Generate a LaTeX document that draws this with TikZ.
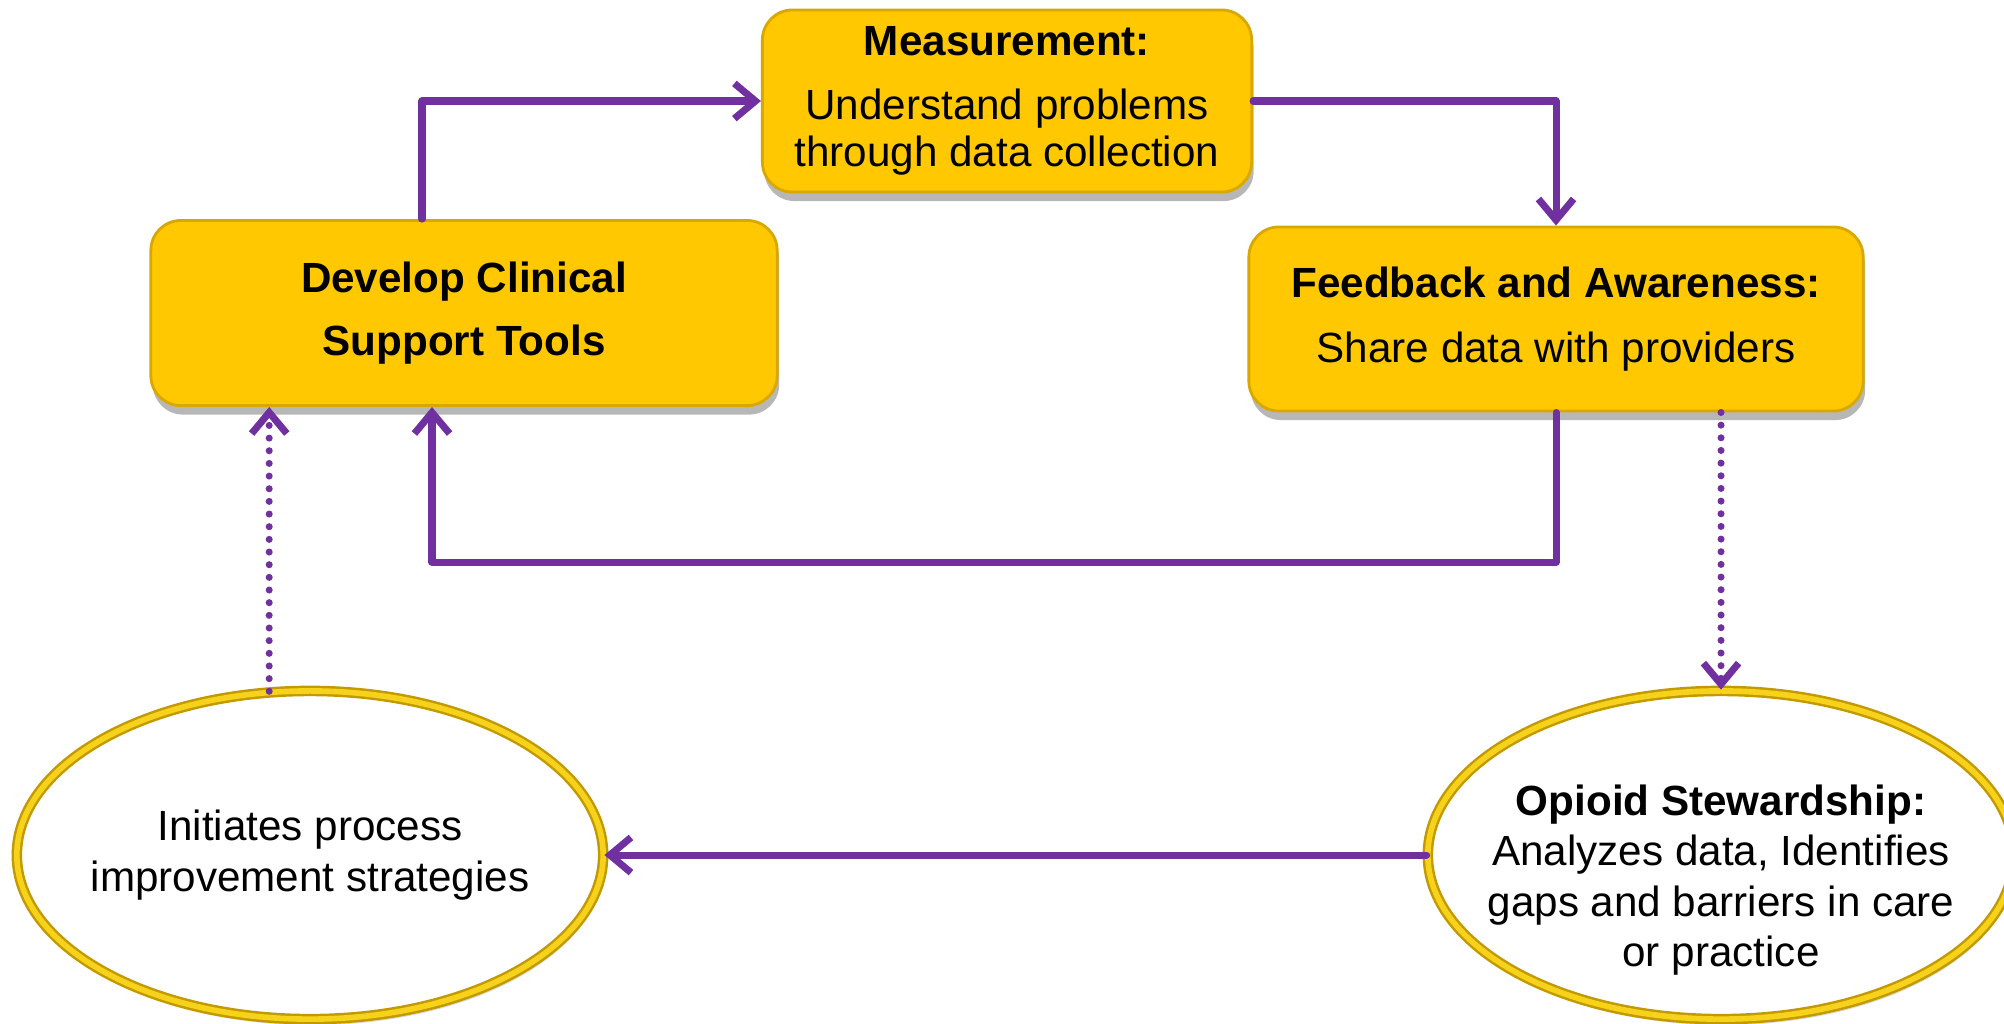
\documentclass[tikz,border=0pt]{standalone}
\usepackage{fontspec}
\setmainfont{Liberation Sans}
\usetikzlibrary{shapes.geometric,arrows.meta,shadows}

\definecolor{boxgold}{HTML}{FFC800}
\definecolor{boxedge}{HTML}{D9A800}
\definecolor{ringgold}{HTML}{C29A00}
\definecolor{ringlite}{HTML}{F7D21A}
\definecolor{flowpurple}{HTML}{7030A0}

\begin{document}
\begin{tikzpicture}[line cap=round, line join=round, x=0.01cm, y=-0.01cm,
    stage/.style={draw=boxedge, line width=0.8pt, fill=boxgold, rounded corners=0.3cm,
        align=center, font=\fontsize{12}{13.5}\selectfont,
        drop shadow={shadow xshift=0.02cm, shadow yshift=-0.09cm, opacity=0.4, fill=black!70}},
    ring/.style={ellipse, draw=ringgold, double=ringlite, line width=0.7pt, double distance=1.6pt,
        fill=white, minimum width=5.86cm, minimum height=3.28cm,
        drop shadow={shadow xshift=0.02cm, shadow yshift=-0.06cm, opacity=0.25, fill=black!60}},
    ringtext/.style={align=center, font=\fontsize{12}{14.3}\selectfont},
    flow/.style={draw=flowpurple, line width=2pt, -{Straight Barb[length=6pt, width=10pt]}},
    dotflow/.style={flow, dash pattern=on 0pt off 3.6pt}
]

    % canvas (drawing units are pixels, y pointing down)
    \useasboundingbox (0,0) rectangle (2004,1023);

    % key points
    \coordinate (back) at (432,562);   % bottom of the return loop

    % the three steps of the cycle
    \node[stage, minimum width=4.89cm, minimum height=1.82cm] (meas) at (1007,101)
        {\textbf{Measurement:}\\[4.5pt] Understand problems\\through data collection};
    \node[stage, minimum width=6.26cm, minimum height=1.85cm] (develop) at (464,313)
        {\textbf{Develop Clinical}\\[4.5pt]\textbf{Support Tools}};
    \node[stage, minimum width=6.14cm, minimum height=1.84cm] (feedback) at (1556,319)
        {\textbf{Feedback and Awareness:}\\[5pt] Share data with providers};

    % the two ovals below
    \node[ring] (init) at (310,855) {};
    \node[ringtext] (initTxt) at (init.center)
        {Initiates process\\improvement strategies};
    \node[ring] (steward) at (1721,855) {};
    \node[ringtext] (stewardTxt) at ([yshift=-0.25cm]steward.center)
        {\textbf{Opioid Stewardship:}\\Analyzes data, Identifies\\gaps and barriers in care\\or practice};

    % solid loop
    \draw[flow] ([xshift=-0.42cm]develop.north) |- (meas.west);
    \draw[flow] (meas.east) -| (feedback.north);
    \draw[flow] (feedback.south) |- (back) -- (back |- develop.south);
    \draw[flow] (steward.west) -- (init.east);

    % dotted links to the ovals
    \draw[dotflow] (feedback.south -| steward.north) -- (steward.north);
    \draw[dotflow] (init.104) -- (init.104 |- develop.south);

\end{tikzpicture}
\end{document}
